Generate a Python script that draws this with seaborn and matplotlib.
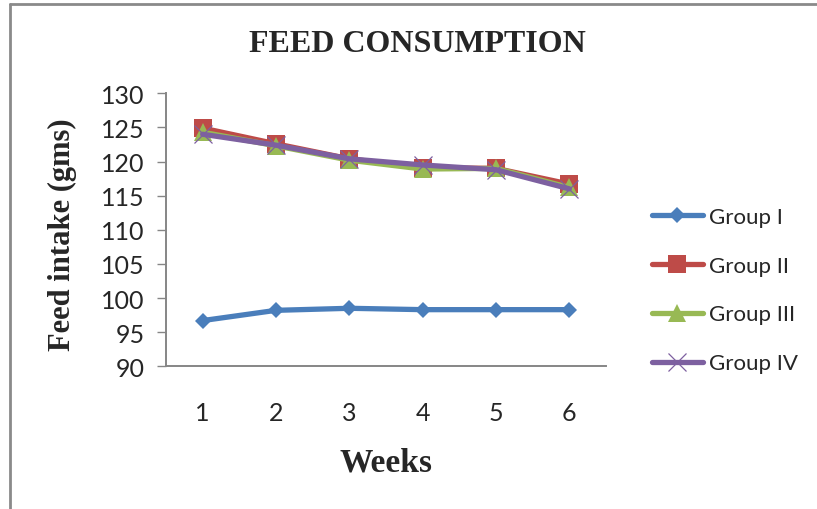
import matplotlib
matplotlib.use("Agg")
import matplotlib.pyplot as plt
from matplotlib.lines import Line2D
import seaborn as sns
import pandas as pd

weeks = [1, 2, 3, 4, 5, 6]
group_i = [96.7, 98.2, 98.5, 98.3, 98.3, 98.3]
group_ii = [124.9, 122.6, 120.4, 119.1, 119.0, 116.7]
group_iii = [124.3, 122.3, 120.2, 118.9, 119.0, 116.2]
group_iv = [124.0, 122.4, 120.4, 119.5, 118.8, 116.0]
group_names = ["Group I", "Group II", "Group III", "Group IV"]
y_ticks = [90, 95, 100, 105, 110, 115, 120, 125, 130]

df = pd.DataFrame({
    "week": weeks * 4,
    "intake": group_i + group_ii + group_iii + group_iv,
    "group": [g for g in group_names for _ in weeks],
})

sns.set_theme(style="white")
plt.rcParams["font.family"] = ["Lato", "DejaVu Sans"]

colors = ["#4A7EBB", "#BE4B48", "#98B954", "#7D60A0"]
styles = [
    dict(marker="D", markersize=8, markeredgewidth=0),
    dict(marker="s", markersize=13, markeredgewidth=0),
    dict(marker="^", markersize=13, markeredgewidth=0),
    dict(marker="x", markersize=13, markeredgewidth=0.9),
]

fig = plt.figure(figsize=(8.17, 5.10), dpi=100)
ax = fig.add_axes([166 / 817, 142.7 / 510, 440 / 817, 273 / 510])

for name, col, st in zip(group_names, colors, styles):
    sub = df[df["group"] == name]
    sns.lineplot(data=sub, x="week", y="intake", ax=ax, color=col,
                 linewidth=3.8, markeredgecolor=col, markerfacecolor=col,
                 legend=False, **st)

ax.set_xlim(0.5, 6.5)
ax.set_ylim(90, 130)
ax.set_yticks(y_ticks)
ax.set_xticks(weeks)
ax.set_xticklabels([str(w) for w in weeks])
ax.set_xlabel("")
ax.set_ylabel("")
ax.tick_params(axis="y", direction="out", length=6.5, width=1, color="#868686",
               labelsize=18, pad=9, left=True)
ax.tick_params(axis="x", length=0, labelsize=18, pad=25)
for s in ["top", "right"]:
    ax.spines[s].set_visible(False)
for s in ["left", "bottom"]:
    ax.spines[s].set_color("#868686")
    ax.spines[s].set_linewidth(1.4)

handles = [Line2D([0], [0], color=c, linewidth=3.8, markerfacecolor=c,
                  markeredgecolor=c, **st) for c, st in zip(colors, styles)]
ax.legend(handles, group_names, loc="center left",
          bbox_to_anchor=(643 / 817, 1 - 291 / 510), bbox_transform=fig.transFigure,
          frameon=False, fontsize=16, handlelength=2.3, handletextpad=0.25,
          labelspacing=1.3, borderaxespad=0)

serif = ["Liberation Serif", "DejaVu Serif"]
fig.text(417 / 817, 1 - 44 / 510, "FEED CONSUMPTION", ha="center", va="center",
         fontsize=23, fontweight="bold", family=serif)
fig.text(386 / 817, 1 - 463 / 510, "Weeks", ha="center", va="center",
         fontsize=24, fontweight="bold", family=serif)
fig.text(62 / 817, 1 - 235 / 510, "Feed intake (gms)", ha="center", va="center",
         rotation=90, fontsize=22, fontweight="bold", family=serif)

# chart frame (top and left edges)
fig.add_artist(Line2D([10 / 817, 1], [1 - 5 / 510, 1 - 5 / 510],
                      transform=fig.transFigure, color="#8a8a8a", linewidth=2))
fig.add_artist(Line2D([10 / 817, 10 / 817], [0, 1 - 5 / 510],
                      transform=fig.transFigure, color="#8a8a8a", linewidth=2))

fig.savefig("out.png", dpi=100, facecolor="white")
